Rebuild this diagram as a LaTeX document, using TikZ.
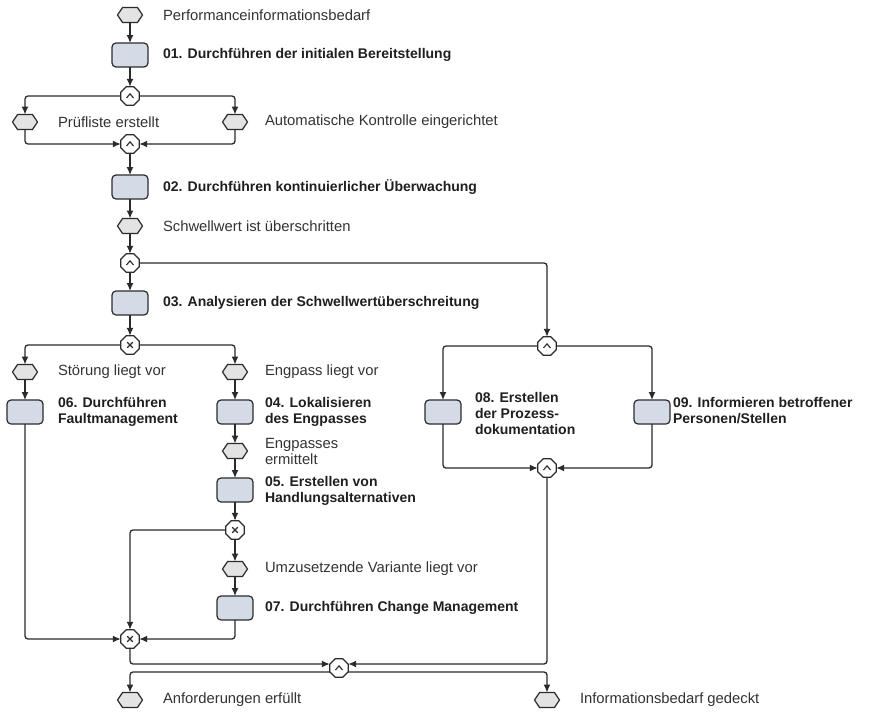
\documentclass[tikz,border=0pt]{standalone}
\usepackage{fontspec}
\setmainfont{Liberation Sans}
\usetikzlibrary{arrows.meta,shapes.geometric,shapes.symbols}
\definecolor{ink}{HTML}{2B2B2B}
\definecolor{txt}{HTML}{333333}
\definecolor{funcfill}{HTML}{D4DAE6}
\definecolor{evfill}{HTML}{E3E3E3}

\begin{document}
\begin{tikzpicture}[x=1pt,y=-1pt,
  every node/.style={inner sep=0pt, outer sep=0pt},
  event/.style={signal, signal to=east and west, signal pointer angle=112,
    draw=ink, fill=evfill, line width=1.2pt,
    minimum width=25pt, minimum height=15pt},
  func/.style={rectangle, rounded corners=4pt, draw=ink, fill=funcfill,
    line width=1.2pt, minimum width=36pt, minimum height=24pt},
  conn/.style={regular polygon, regular polygon sides=8, minimum size=20pt,
    draw=ink, fill=white, line width=1.2pt},
  andc/.style={conn, path picture={
    \draw[ink, line width=1.1pt, line join=miter]
      ([xshift=-3.5pt,yshift=-2pt]path picture bounding box.center)
      -- ([yshift=2.2pt]path picture bounding box.center)
      -- ([xshift=3.5pt,yshift=-2pt]path picture bounding box.center);}},
  xorc/.style={conn, path picture={
    \draw[ink, line width=1.1pt]
      ([xshift=-2.8pt,yshift=-2.8pt]path picture bounding box.center)
      -- ([xshift=2.8pt,yshift=2.8pt]path picture bounding box.center)
      ([xshift=-2.8pt,yshift=2.8pt]path picture bounding box.center)
      -- ([xshift=2.8pt,yshift=-2.8pt]path picture bounding box.center);}},
  lbl/.style={anchor=west, text=txt, align=left,
    font=\fontsize{14.8}{16}\selectfont},
  blbl/.style={anchor=west, text=black!88, align=left,
    font=\fontsize{14}{16}\selectfont\bfseries},
  arr/.style={draw=ink, line width=1.3pt, rounded corners=3pt,
    -{Latex[length=8pt,width=7pt]}}
]
\useasboundingbox[fill=white] (0,0) rectangle (869,712);

% ---- main column: initial provisioning and monitoring ----
\node[event] (e0) at (130,15) {};
\node[lbl] (te0) at (163,15) {Performanceinformationsbedarf};
\node[func] (f01) at (130,55) {};
\node[blbl] (tf01) at (163,55) {01. Durchführen der initialen Bereitstellung};
\node[andc] (a1) at (130,96) {};
\node[event] (e1L) at (25,122) {};
\node[lbl] (te1L) at (58,122) {Prüfliste erstellt};
\node[event] (e1R) at (235,122) {};
\node[lbl] (te1R) at (265,122) {Automatische Kontrolle eingerichtet};
\node[andc] (a2) at (130,144) {};
\node[func] (f02) at (130,187) {};
\node[blbl] (tf02) at (163,187) {02. Durchführen kontinuierlicher Überwachung};
\node[event] (e2) at (130,226) {};
\node[lbl] (te2) at (163,226) {Schwellwert ist überschritten};
\node[andc] (a3) at (130,263) {};
\node[func] (f03) at (130,303) {};
\node[blbl] (tf03) at (163,303) {03. Analysieren der Schwellwertüberschreitung};
\node[xorc] (x1) at (130,345) {};

% ---- fault / bottleneck branches ----
\node[event] (eS) at (25,372) {};
\node[lbl] (teS) at (58,372) {Störung liegt vor};
\node[event] (eE) at (235,372) {};
\node[lbl] (teE) at (265,372) {Engpass liegt vor};
\node[func] (f06) at (25,412) {};
\node[blbl] (tf06) at (58,412) {06. Durchführen\\Faultmanagement};
\node[func] (f04) at (235,412) {};
\node[blbl] (tf04) at (265,412) {04. Lokalisieren\\des Engpasses};
\node[event] (eE2) at (235,451) {};
\node[lbl] (teE2) at (265,451) {Engpasses\\ermittelt};
\node[func] (f05) at (235,490) {};
\node[blbl] (tf05) at (265,491) {05. Erstellen von\\Handlungsalternativen};
\node[xorc] (x2) at (235,530) {};
\node[event] (eU) at (235,569) {};
\node[lbl] (teU) at (265,569) {Umzusetzende Variante liegt vor};
\node[func] (f07) at (235,608) {};
\node[blbl] (tf07) at (265,608) {07. Durchführen Change Management};
\node[xorc] (x3) at (130,639) {};

% ---- documentation / information branch ----
\node[andc] (a4) at (547,346) {};
\node[func] (f08) at (443,412) {};
\node[blbl] (tf08) at (475,413) {08. Erstellen\\der Prozess-\\dokumentation};
\node[func] (f09) at (652,412) {};
\node[blbl] (tf09) at (673,411) {09. Informieren betroffener\\Personen/Stellen};
\node[andc] (a6) at (547,468) {};

% ---- final join and end events ----
\node[andc] (a5) at (339,668) {};
\node[event] (eA) at (130,700) {};
\node[lbl] (teA) at (163,700) {Anforderungen erfüllt};
\node[event] (eI) at (547,700) {};
\node[lbl] (teI) at (580,700) {Informationsbedarf gedeckt};

% ---- control flow ----
\draw[arr] (e0) -- (f01);
\draw[arr] (f01) -- (a1);
\draw[arr] (a1.west) -| (e1L.north);
\draw[arr] (a1.east) -| (e1R.north);
\draw[arr] (e1L.south) |- (a2.west);
\draw[arr] (e1R.south) |- (a2.east);
\draw[arr] (a2) -- (f02);
\draw[arr] (f02) -- (e2);
\draw[arr] (e2) -- (a3);
\draw[arr] (a3) -- (f03);
\draw[arr] (a3.east) -| (a4.north);
\draw[arr] (f03) -- (x1);
\draw[arr] (x1.west) -| (eS.north);
\draw[arr] (x1.east) -| (eE.north);
\draw[arr] (eS) -- (f06);
\draw[arr] (eE) -- (f04);
\draw[arr] (f04) -- (eE2);
\draw[arr] (eE2) -- (f05);
\draw[arr] (f05) -- (x2);
\draw[arr] (x2) -- (eU);
\draw[arr] (eU) -- (f07);
\draw[arr] (x2.west) -| (x3.north);
\draw[arr] (f06.south) |- (x3.west);
\draw[arr] (f07.south) |- (x3.east);
\draw[arr] (a4.west) -| (f08.north);
\draw[arr] (a4.east) -| (f09.north);
\draw[arr] (f08.south) |- (a6.west);
\draw[arr] (f09.south) |- (a6.east);
\draw[arr] (x3.south) |- ([yshift=4pt]a5.west);
\draw[arr] (a6.south) |- ([yshift=4pt]a5.east);
\draw[arr] ([yshift=-4pt]a5.west) -| (eA.north);
\draw[arr] ([yshift=-4pt]a5.east) -| (eI.north);
\end{tikzpicture}
\end{document}
